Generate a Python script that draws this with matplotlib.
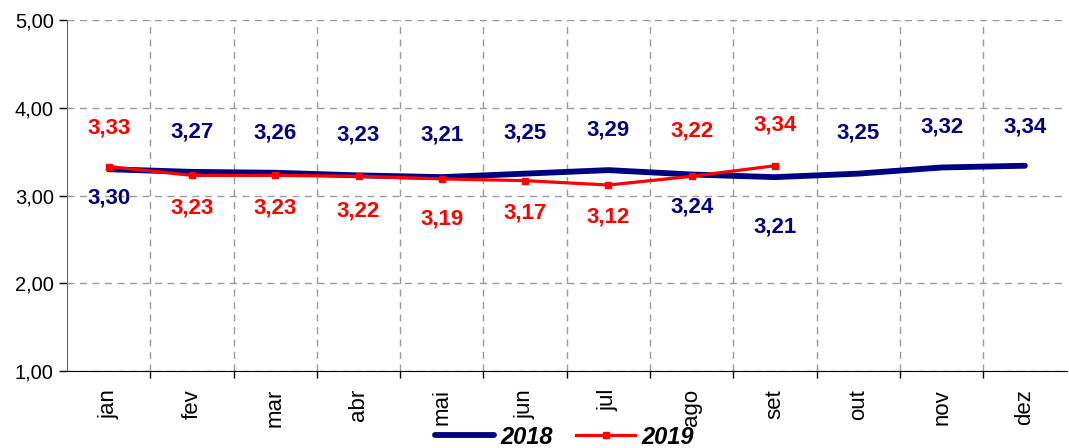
import matplotlib.pyplot as plt
from matplotlib.ticker import FuncFormatter, FixedLocator

plt.rcParams["font.family"] = ["Liberation Sans", "DejaVu Sans"]

months = ["jan", "fev", "mar", "abr", "mai", "jun",
          "jul", "ago", "set", "out", "nov", "dez"]
v2018 = [3.30, 3.27, 3.26, 3.23, 3.21, 3.25, 3.29, 3.24, 3.21, 3.25, 3.32, 3.34]
v2019 = [3.33, 3.23, 3.23, 3.22, 3.19, 3.17, 3.12, 3.22, 3.34]

# label offsets from each point, in pixels (positive = above)
off2018 = [-29, 40, 40, 40, 42, 41, 40, -32, -50, 41, 40, 39]
off2019 = [39, -33, -33, -35, -40, -32, -32, 45, 41]

navy = "#000080"
red = "#ff0000"

fig = plt.figure(figsize=(10.69, 4.48), dpi=100)
ax = fig.add_axes([0.0627, 0.172, 0.935, 0.783])

x18 = range(len(v2018))
x19 = range(len(v2019))
ax.plot(x18, v2018, color=navy, lw=4.2, solid_capstyle="round", zorder=3, label="2018")
ax.plot(x19, v2019, color=red, lw=2.3, marker="s", ms=5, zorder=4, label="2019")

for x, v, o in zip(x18, v2018, off2018):
    ax.annotate(f"{v:.2f}".replace(".", ","), (x, v), xytext=(0, o),
                textcoords="offset pixels", ha="center", va="center",
                fontsize=16, fontweight="bold", color=navy)
for x, v, o in zip(x19, v2019, off2019):
    ax.annotate(f"{v:.2f}".replace(".", ","), (x, v), xytext=(0, o),
                textcoords="offset pixels", ha="center", va="center",
                fontsize=16, fontweight="bold", color=red)

ax.set_xlim(-0.5, len(months) - 0.5)
ax.set_ylim(1, 5)
ax.set_yticks([1, 2, 3, 4, 5])
ax.yaxis.set_major_formatter(FuncFormatter(lambda v, p: f"{v:.2f}".replace(".", ",")))
ax.set_xticks(range(len(months)))
ax.set_xticklabels(months, rotation=90, fontsize=16)
ax.xaxis.set_minor_locator(FixedLocator([i + 0.5 for i in range(len(months) - 1)]))
ax.tick_params(axis="x", which="major", length=0, pad=13)
ax.tick_params(axis="x", which="minor", length=5, width=1, direction="out", color="black")
ax.tick_params(axis="y", length=6, width=1, labelsize=14.5, color="black")

ax.grid(True, axis="y", which="major", ls=(0, (5, 4)), color="#9a9a9a", lw=1)
ax.grid(True, axis="x", which="minor", ls=(0, (5, 4)), color="#9a9a9a", lw=1)
for s in ["top", "right"]:
    ax.spines[s].set_visible(False)
ax.spines["left"].set_color("#666666")
ax.spines["bottom"].set_color("black")
ax.set_axisbelow(True)

leg = fig.legend(loc="center", bbox_to_anchor=(0.528, 0.024), ncol=2, frameon=False,
                 handlelength=2.5, handletextpad=0.25, columnspacing=1.0, numpoints=1,
                 prop={"weight": "bold", "style": "italic", "size": 17})

fig.savefig("out.png", dpi=100)
